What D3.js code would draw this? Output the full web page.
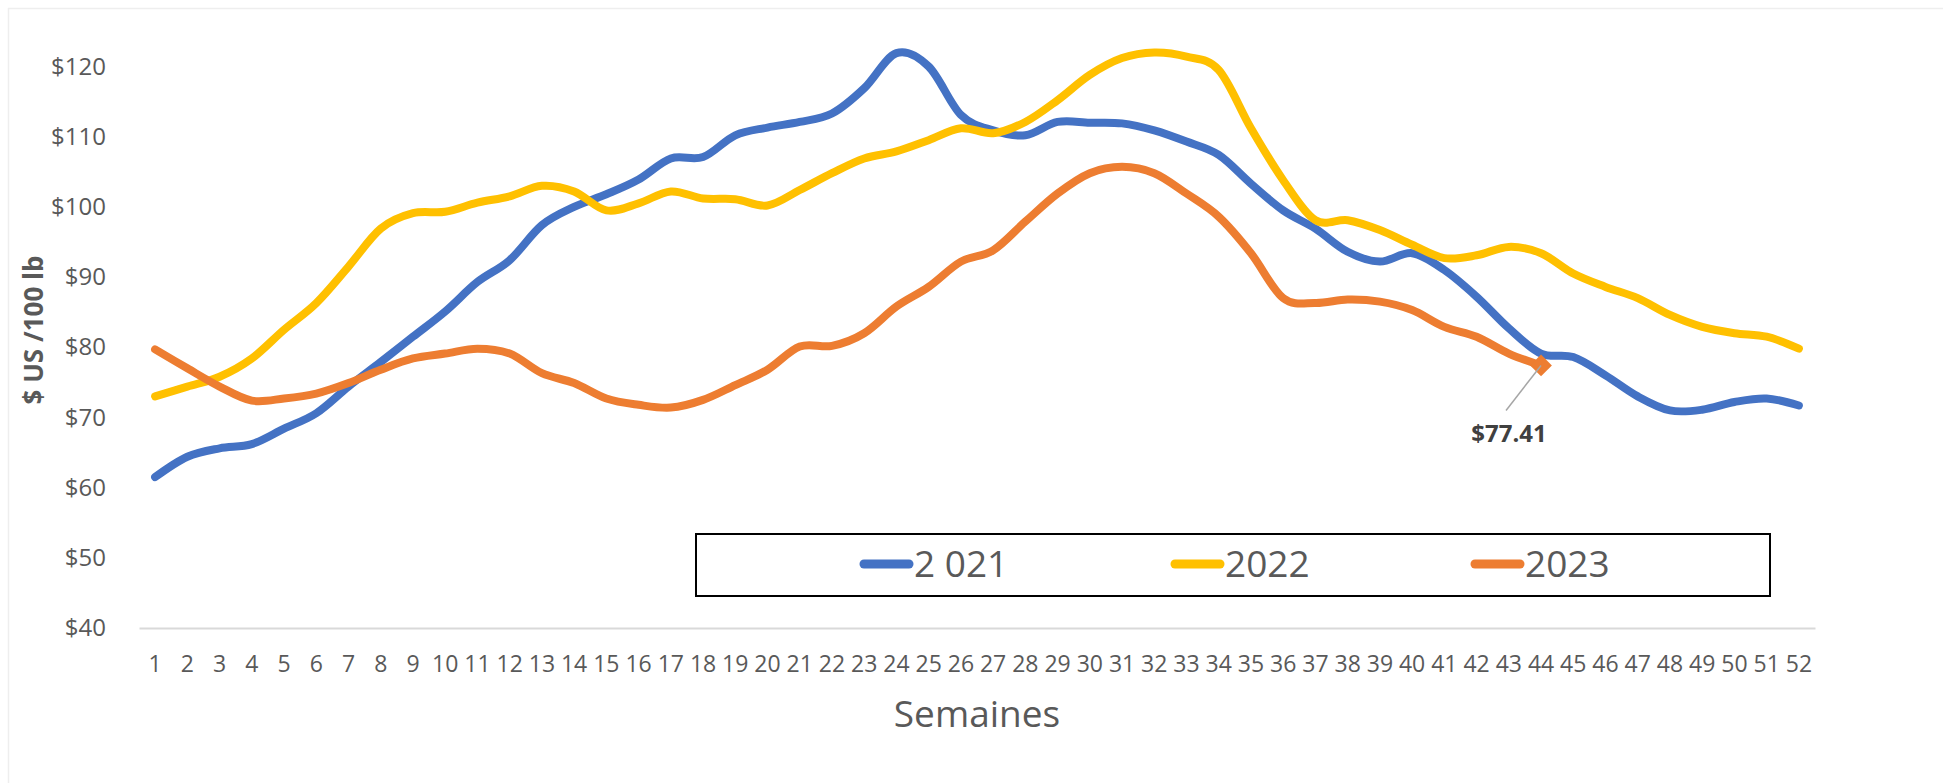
<!DOCTYPE html>
<html>
<head>
<meta charset="utf-8">
<script src="https://cdn.jsdelivr.net/npm/d3@7"></script>
<style>
    body { margin: 0; background: #fff; }
    svg { display: block; font-family: "Open Sans", sans-serif; }
</style>
</head>
<body>
<div id="chart"></div>
<script>
const weeks = [1, 2, 3, 4, 5, 6, 7, 8, 9, 10, 11, 12, 13, 14, 15, 16, 17, 18, 19, 20, 21, 22, 23, 24, 25, 26,
    27, 28, 29, 30, 31, 32, 33, 34, 35, 36, 37, 38, 39, 40, 41, 42, 43, 44, 45, 46, 47, 48, 49, 50, 51, 52];

const prices2021 = [61.5, 64.4, 65.6, 66.2, 68.4, 70.6, 74.4, 77.9, 81.5, 85.1, 89.3, 92.4, 97.4,
    100.0, 101.8, 103.9, 106.9, 107.1, 110.2, 111.3, 112.1, 113.3, 116.9, 121.9, 120.0, 113.1,
    110.9, 110.2, 112.1, 112.0, 111.9, 110.9, 109.3, 107.4, 103.3, 99.5, 96.9, 93.6, 92.2,
    93.4, 91.0, 87.2, 82.7, 79.1, 78.6, 76.0, 73.0, 71.0, 71.1, 72.2, 72.7, 71.7];

const prices2022 = [73.0, 74.4, 75.8, 78.4, 82.5, 86.3, 91.5, 96.9, 99.1, 99.3, 100.6, 101.5, 103.0,
    102.2, 99.5, 100.5, 102.2, 101.2, 101.1, 100.2, 102.4, 104.8, 106.9, 107.9, 109.5, 111.2,
    110.5, 112.1, 115.2, 118.8, 121.2, 122.0, 121.4, 119.5, 111.2, 103.8, 98.1, 98.1, 96.7,
    94.6, 92.7, 93.1, 94.3, 93.4, 90.5, 88.6, 87.0, 84.6, 82.9, 82.0, 81.5, 79.8];

const prices2023 = [79.7, 77.0, 74.4, 72.4, 72.7, 73.4, 74.9, 76.8, 78.4, 79.1, 79.8, 79.1, 76.3,
    74.9, 72.7, 71.8, 71.4, 72.5, 74.6, 76.8, 80.1, 80.2, 82.0, 85.8, 88.6, 92.2,
    93.8, 97.9, 101.9, 104.8, 105.7, 104.8, 101.9, 98.6, 93.4, 87.0, 86.3, 86.8, 86.5,
    85.3, 82.9, 81.5, 79.1, 77.41];

const seriesNames = ["2 021", "2022", "2023"];
const seriesColors = ["#4472C4", "#FFC000", "#ED7D31"];
const yTicks = [40, 50, 60, 70, 80, 90, 100, 110, 120];

const width = 1943, height = 783;
const textColor = "#595959";

const svg = d3.select("#chart")
    .append("svg")
    .attr("width", width)
    .attr("height", height);

// faint chart-area edge (top / left)
svg.append("line").attr("x1", 8).attr("x2", width).attr("y1", 8.5).attr("y2", 8.5)
    .attr("stroke", "#eeeeee").attr("stroke-width", 1.5);
svg.append("line").attr("x1", 8.5).attr("x2", 8.5).attr("y1", 8).attr("y2", height)
    .attr("stroke", "#eeeeee").attr("stroke-width", 1.5);

const x = d3.scaleBand()
    .domain(weeks)
    .range([139, 1815])
    .padding(0);

const xc = d => x(d) + x.bandwidth() / 2;

const y = d3.scaleLinear()
    .domain([40, 120])
    .range([628, 66.5]);

// x axis
const xAxis = svg.append("g")
    .attr("transform", "translate(0,628)")
    .call(d3.axisBottom(x).tickSize(0).tickPadding(0));
xAxis.select(".domain").attr("stroke", "#d9d9d9").attr("stroke-width", 2);
xAxis.selectAll("text")
    .attr("y", 44)
    .attr("dy", null)
    .attr("fill", textColor)
    .style("font-size", "23px")
    .style("font-family", "'Open Sans', sans-serif");

// y axis (labels only)
const yAxis = svg.append("g")
    .attr("transform", "translate(106,0)")
    .call(d3.axisLeft(y).tickValues(yTicks).tickSize(0).tickPadding(0).tickFormat(d => "$" + d));
yAxis.select(".domain").remove();
yAxis.selectAll("text")
    .attr("fill", textColor)
    .style("font-size", "24px")
    .style("font-family", "'Open Sans', sans-serif");

// axis titles
svg.append("text")
    .attr("transform", "translate(43,330) rotate(-90)")
    .attr("text-anchor", "middle")
    .attr("fill", textColor)
    .style("font-size", "26px")
    .style("font-weight", "bold")
    .text("$ US /100 lb");

svg.append("text")
    .attr("x", 977)
    .attr("y", 727)
    .attr("text-anchor", "middle")
    .attr("fill", textColor)
    .style("font-size", "37px")
    .text("Semaines");

// lines
const allSeries = [prices2021, prices2022, prices2023];
const line = d3.line()
    .x((d, i) => xc(weeks[i]))
    .y(d => y(d))
    .curve(d3.curveCardinal.tension(0));

svg.selectAll(".series")
    .data(allSeries)
    .enter()
    .append("path")
    .attr("class", "series")
    .attr("d", d => line(d))
    .attr("fill", "none")
    .attr("stroke", (d, i) => seriesColors[i])
    .attr("stroke-width", 8)
    .attr("stroke-linecap", "round")
    .attr("stroke-linejoin", "round");

// last 2023 point: diamond marker + callout label
const lastIdx = prices2023.length - 1;
const lastX = xc(weeks[lastIdx]);
const lastY = y(prices2023[lastIdx]);

svg.append("path")
    .attr("d", d3.symbol().type(d3.symbolDiamond2).size(300))
    .attr("transform", `translate(${lastX},${lastY})`)
    .attr("fill", seriesColors[2]);

svg.append("line")
    .attr("x1", lastX)
    .attr("y1", lastY)
    .attr("x2", lastX - 35)
    .attr("y2", lastY + 45)
    .attr("stroke", "#a6a6a6")
    .attr("stroke-width", 1.5);

svg.append("text")
    .attr("x", lastX - 32)
    .attr("y", lastY + 77)
    .attr("text-anchor", "middle")
    .attr("fill", "#404040")
    .style("font-size", "24px")
    .style("font-weight", "bold")
    .text("$" + prices2023[lastIdx].toFixed(2));

// legend
const legend = svg.append("g");
legend.append("rect")
    .attr("x", 696)
    .attr("y", 534)
    .attr("width", 1074)
    .attr("height", 62)
    .attr("fill", "#fff")
    .attr("stroke", "#000")
    .attr("stroke-width", 2);

const legendX = [864, 1175, 1475];
seriesNames.forEach((name, i) => {
    legend.append("line")
        .attr("x1", legendX[i])
        .attr("x2", legendX[i] + 45)
        .attr("y1", 564)
        .attr("y2", 564)
        .attr("stroke", seriesColors[i])
        .attr("stroke-width", 9)
        .attr("stroke-linecap", "round");
    legend.append("text")
        .attr("x", legendX[i] + 50)
        .attr("y", 577)
        .attr("fill", textColor)
        .style("font-size", "37px")
        .text(name);
});
</script>
</body>
</html>
